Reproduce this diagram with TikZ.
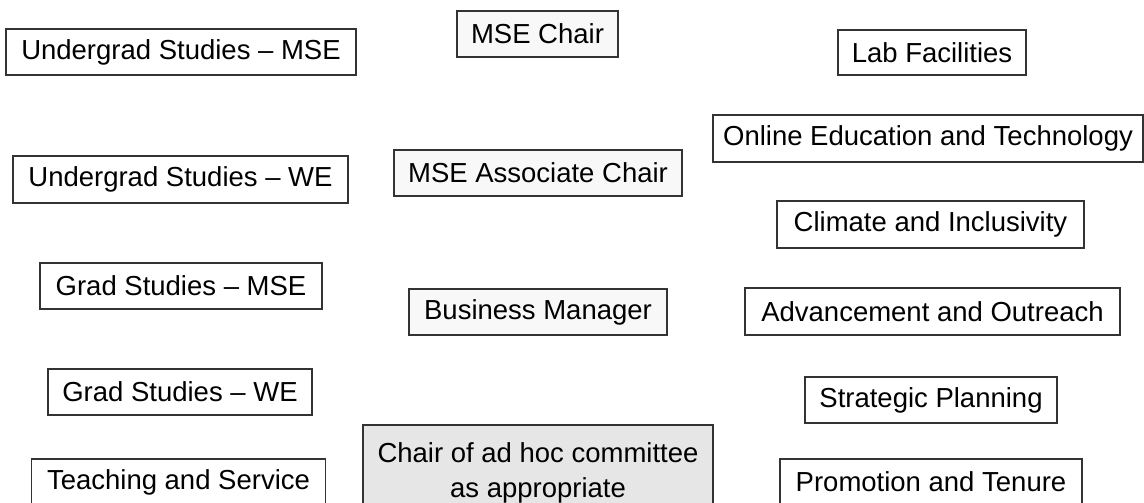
\documentclass[tikz,border=0pt]{standalone}
\usepackage{fontspec}
\setmainfont{Liberation Sans}
\definecolor{boxline}{HTML}{333333}
\definecolor{lightfill}{HTML}{F8F8F8}
\definecolor{adhocfill}{HTML}{E6E6E6}
\tikzset{
  unitbox/.style={draw=boxline, line width=1.3pt, fill=white, inner sep=0pt,
    font=\fontsize{27.5}{35}\selectfont, text=black, align=center},
  centerbox/.style={unitbox, fill=lightfill},
  adhocbox/.style={unitbox, fill=adhocfill}
}
\begin{document}
\begin{tikzpicture}[x=1pt,y=-1pt]
\useasboundingbox (0,0) rectangle (1144,503);
\fill[white] (0,0) rectangle (1144,503);
% left column
\node[unitbox, minimum width=350pt, minimum height=46pt] (ugmse) at (181,52) {Undergrad Studies -- MSE};
\node[unitbox, minimum width=335pt, minimum height=47pt] (ugwe) at (180.5,179.5) {Undergrad Studies -- WE};
\node[unitbox, minimum width=282pt, minimum height=46pt] (gmse) at (181,286) {Grad Studies -- MSE};
\node[unitbox, minimum width=264pt, minimum height=46pt] (gwe) at (180,392) {Grad Studies -- WE};
\node[unitbox, minimum width=294pt, minimum height=46pt] (ts) at (178.5,482) {Teaching and Service};
% center column
\node[centerbox, minimum width=161pt, minimum height=46pt] (chair) at (537.5,34) {MSE Chair};
\node[centerbox, minimum width=288pt, minimum height=46pt] (assoc) at (538,173) {MSE Associate Chair};
\node[centerbox, minimum width=258pt, minimum height=46pt] (bm) at (538,312) {Business Manager};
\node[adhocbox, minimum width=350pt, minimum height=96pt] (adhoc) at (538,473) {Chair of ad hoc committee\\as appropriate};
% right column
\node[unitbox, minimum width=188pt, minimum height=45pt] (lab) at (932,52.5) {Lab Facilities};
\node[unitbox, minimum width=430pt, minimum height=47pt] (online) at (928,138.5) {Online Education and Technology};
\node[unitbox, minimum width=307pt, minimum height=47pt] (climate) at (930.5,224.5) {Climate and Inclusivity};
\node[unitbox, minimum width=375pt, minimum height=47pt] (adv) at (932.5,311.5) {Advancement and Outreach};
\node[unitbox, minimum width=252pt, minimum height=46pt] (sp) at (931,400) {Strategic Planning};
\node[unitbox, minimum width=302pt, minimum height=46pt] (pt) at (931,482) {Promotion and Tenure};
\end{tikzpicture}
\end{document}
